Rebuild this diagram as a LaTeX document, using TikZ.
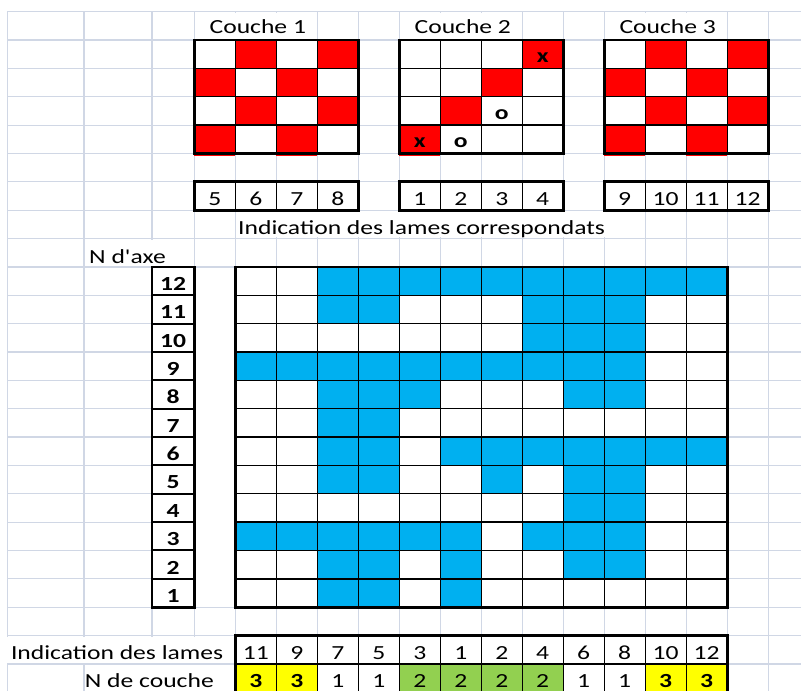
\documentclass[tikz,border=0pt]{standalone}
\usepackage{fontspec}
\setmainfont{Carlito}[FakeStretch=1.28,Ligatures=TeXOff]
\definecolor{xlgrid}{HTML}{D0D7E5}
\definecolor{xlred}{HTML}{FF0000}
\definecolor{xlblue}{HTML}{00B0F0}
\definecolor{xlyellow}{HTML}{FFFF00}
\definecolor{xlgreen}{HTML}{92D050}

\begin{document}
\begin{tikzpicture}[x=41pt,y=28.36pt]
\tikzset{
  gridline/.style={draw=xlgrid,line width=1.2pt},
  maskcell/.style={fill=white},
  redcell/.style={fill=xlred},
  bluecell/.style={fill=xlblue},
  yellowcell/.style={fill=xlyellow},
  greencell/.style={fill=xlgreen},
  boxinner/.style={draw=black,line width=1.3pt},
  boxmid/.style={draw=black,line width=2pt},
  boxouter/.style={draw=black,line width=2.7pt,line join=miter},
  celltext/.style={anchor=base,inner sep=0pt,font=\fontsize{20}{24}\selectfont},
  boldtext/.style={celltext,font=\fontsize{20}{24}\selectfont\bfseries},
  labeltext/.style={celltext,anchor=base west},
  rightlabel/.style={celltext,anchor=base east}
}
\useasboundingbox (-4.739,-23.95) rectangle (14.80,0.4125);
\clip (-4.739,-23.95) rectangle (14.80,0.4125);
\fill[white] (-4.739,-23.95) rectangle (14.80,0.4125);
\draw[gridline,step=1] (0,-23.95) grid (14.80,0);
\draw[gridline,xstep=100,ystep=1] (-4.561,-23.95) grid (0,0);
\draw[gridline] (-4.561,0) -- (14.80,0);
\draw[gridline] (-4.561,0) -- (-4.561,-23.95);
\draw[gridline] (-2.690,0) -- (-2.690,-23.95);
\draw[gridline] (-1.032,0) -- (-1.032,-23.95);
\fill[maskcell] (0.03,-0.04) rectangle (2.97,-0.96);
\fill[maskcell] (5.03,-0.04) rectangle (7.97,-0.96);
\fill[maskcell] (10.03,-0.04) rectangle (12.97,-0.96);
\fill[maskcell] (1.03,-7.04) rectangle (10.97,-7.96);
\fill[maskcell] (-2.66,-8.04) rectangle (-0.03,-8.96);
\fill[maskcell] (0.03,-9.04) rectangle (0.97,-20.96);
\fill[maskcell] (-4.739,-22.04) rectangle (0.97,-22.96);
\fill[maskcell] (-2.66,-23.04) rectangle (0.97,-23.96);
\fill[redcell] (1,-1) rectangle (2,-2);
\fill[redcell] (3,-1) rectangle (4,-2);
\fill[redcell] (0,-2) rectangle (1,-3);
\fill[redcell] (2,-2) rectangle (3,-3);
\fill[redcell] (1,-3) rectangle (2,-4);
\fill[redcell] (3,-3) rectangle (4,-4);
\fill[redcell] (0,-4) rectangle (1,-5.09);
\fill[redcell] (2,-4) rectangle (3,-5.09);
\fill[redcell] (8,-1) rectangle (9,-2);
\fill[redcell] (7,-2) rectangle (8,-3);
\fill[redcell] (6,-3) rectangle (7,-4);
\fill[redcell] (5,-4) rectangle (6,-5.09);
\fill[redcell] (11,-1) rectangle (12,-2);
\fill[redcell] (13,-1) rectangle (14,-2);
\fill[redcell] (10,-2) rectangle (11,-3);
\fill[redcell] (12,-2) rectangle (13,-3);
\fill[redcell] (11,-3) rectangle (12,-4);
\fill[redcell] (13,-3) rectangle (14,-4);
\fill[redcell] (10,-4) rectangle (11,-5.09);
\fill[redcell] (12,-4) rectangle (13,-5.09);
\fill[bluecell] (3,-9) rectangle (13,-10);
\fill[bluecell] (3,-10) rectangle (5,-11);
\fill[bluecell] (8,-10) rectangle (11,-11);
\fill[bluecell] (8,-11) rectangle (11,-12);
\fill[bluecell] (1,-12) rectangle (11,-13);
\fill[bluecell] (3,-13) rectangle (6,-14);
\fill[bluecell] (9,-13) rectangle (11,-14);
\fill[bluecell] (3,-14) rectangle (5,-15);
\fill[bluecell] (3,-15) rectangle (5,-16);
\fill[bluecell] (6,-15) rectangle (13,-16);
\fill[bluecell] (3,-16) rectangle (5,-17);
\fill[bluecell] (7,-16) rectangle (8,-17);
\fill[bluecell] (9,-16) rectangle (11,-17);
\fill[bluecell] (9,-17) rectangle (11,-18);
\fill[bluecell] (1,-18) rectangle (7,-19);
\fill[bluecell] (8,-18) rectangle (11,-19);
\fill[bluecell] (3,-19) rectangle (5,-20);
\fill[bluecell] (6,-19) rectangle (7,-20);
\fill[bluecell] (9,-19) rectangle (11,-20);
\fill[bluecell] (3,-20) rectangle (5,-21);
\fill[bluecell] (6,-20) rectangle (7,-21);
\fill[yellowcell] (1,-23) rectangle (3,-24);
\fill[greencell] (5,-23) rectangle (9,-24);
\fill[yellowcell] (11,-23) rectangle (13,-24);
\draw[boxinner,step=1] (0,-5) grid (4,-1);
\draw[boxinner,step=1] (5,-5) grid (9,-1);
\draw[boxinner,step=1] (10,-5) grid (14,-1);
\draw[boxouter] (0,-5) rectangle (4,-1);
\draw[boxouter] (5,-5) rectangle (9,-1);
\draw[boxouter] (10,-5) rectangle (14,-1);
\draw[boxinner,step=1] (0,-7) grid (4,-6);
\draw[boxinner,step=1] (5,-7) grid (9,-6);
\draw[boxinner,step=1] (10,-7) grid (14,-6);
\draw[boxouter] (0,-7) rectangle (4,-6);
\draw[boxouter] (5,-7) rectangle (9,-6);
\draw[boxouter] (10,-7) rectangle (14,-6);
\draw[boxmid,xstep=100,ystep=1] (-1.032,-21) grid (0,-9);
\draw[boxouter] (-1.032,-21) rectangle (0,-9);
\draw[boxinner,step=1] (1,-21) grid (13,-9);
\draw[boxmid] (1,-18) -- (13,-18);
\draw[boxmid] (1,-20) -- (13,-20);
\draw[boxouter] (1,-21) rectangle (13,-9);
\draw[boxinner,step=1] (1,-24) grid (13,-22);
\draw[boxmid] (1,-23) -- (13,-23);
\draw[boxouter] (1,-24) rectangle (13,-22);
\node[labeltext] (n_L1) at (0.37,-0.77) {Couche 1};
\node[labeltext] (n_L2) at (5.37,-0.77) {Couche 2};
\node[labeltext] (n_L3) at (10.37,-0.77) {Couche 3};
\node[boldtext] (n_X1) at (8.5,-1.8) {x};
\node[boldtext] (n_O1) at (7.5,-3.8) {o};
\node[boldtext] (n_X2) at (5.5,-4.8) {x};
\node[boldtext] (n_O2) at (6.5,-4.8) {o};
\node[celltext] (n_T5) at (0.5,-6.85) {5};
\node[celltext] (n_T6) at (1.5,-6.85) {6};
\node[celltext] (n_T7) at (2.5,-6.85) {7};
\node[celltext] (n_T8) at (3.5,-6.85) {8};
\node[celltext] (n_T1) at (5.5,-6.85) {1};
\node[celltext] (n_T2) at (6.5,-6.85) {2};
\node[celltext] (n_T3) at (7.5,-6.85) {3};
\node[celltext] (n_T4) at (8.5,-6.85) {4};
\node[celltext] (n_T9) at (10.5,-6.85) {9};
\node[celltext] (n_T10) at (11.5,-6.85) {10};
\node[celltext] (n_T11) at (12.5,-6.85) {11};
\node[celltext] (n_T12) at (13.5,-6.85) {12};
\node[labeltext] (n_corr) at (1.066,-7.87) {Indication des lames correspondats};
\node[labeltext] (n_axe) at (-2.568,-8.87) {N d'axe};
\node[boldtext] (n_A12) at (-0.516,-9.83) {12};
\node[boldtext] (n_A11) at (-0.516,-10.83) {11};
\node[boldtext] (n_A10) at (-0.516,-11.83) {10};
\node[boldtext] (n_A9) at (-0.516,-12.83) {9};
\node[boldtext] (n_A8) at (-0.516,-13.83) {8};
\node[boldtext] (n_A7) at (-0.516,-14.83) {7};
\node[boldtext] (n_A6) at (-0.516,-15.83) {6};
\node[boldtext] (n_A5) at (-0.516,-16.83) {5};
\node[boldtext] (n_A4) at (-0.516,-17.83) {4};
\node[boldtext] (n_A3) at (-0.516,-18.83) {3};
\node[boldtext] (n_A2) at (-0.516,-19.83) {2};
\node[boldtext] (n_A1) at (-0.516,-20.83) {1};
\node[rightlabel] (n_lames) at (0.71,-22.86) {Indication des lames};
\node[celltext] (n_B1) at (1.5,-22.86) {11};
\node[celltext] (n_B2) at (2.5,-22.86) {9};
\node[celltext] (n_B3) at (3.5,-22.86) {7};
\node[celltext] (n_B4) at (4.5,-22.86) {5};
\node[celltext] (n_B5) at (5.5,-22.86) {3};
\node[celltext] (n_B6) at (6.5,-22.86) {1};
\node[celltext] (n_B7) at (7.5,-22.86) {2};
\node[celltext] (n_B8) at (8.5,-22.86) {4};
\node[celltext] (n_B9) at (9.5,-22.86) {6};
\node[celltext] (n_B10) at (10.5,-22.86) {8};
\node[celltext] (n_B11) at (11.5,-22.86) {10};
\node[celltext] (n_B12) at (12.5,-22.86) {12};
\node[rightlabel] (n_couche) at (0.48,-23.84) {N de couche};
\node[boldtext] (n_K1) at (1.5,-23.84) {3};
\node[boldtext] (n_K2) at (2.5,-23.84) {3};
\node[celltext] (n_K3) at (3.5,-23.84) {1};
\node[celltext] (n_K4) at (4.5,-23.84) {1};
\node[celltext] (n_K5) at (5.5,-23.84) {2};
\node[celltext] (n_K6) at (6.5,-23.84) {2};
\node[celltext] (n_K7) at (7.5,-23.84) {2};
\node[celltext] (n_K8) at (8.5,-23.84) {2};
\node[celltext] (n_K9) at (9.5,-23.84) {1};
\node[celltext] (n_K10) at (10.5,-23.84) {1};
\node[boldtext] (n_K11) at (11.5,-23.84) {3};
\node[boldtext] (n_K12) at (12.5,-23.84) {3};
\end{tikzpicture}
\end{document}
